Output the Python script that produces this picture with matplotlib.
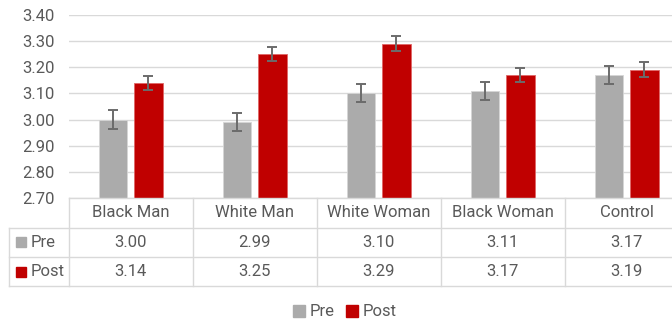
import numpy as np
import matplotlib
matplotlib.use('Agg')
import matplotlib.pyplot as plt
from matplotlib import transforms
from matplotlib.patches import Patch

categories = ['Black Man', 'White Man', 'White Woman', 'Black Woman', 'Control']
pre = [3.00, 2.99, 3.10, 3.11, 3.17]
post = [3.14, 3.25, 3.29, 3.17, 3.19]
pre_err = [0.035, 0.034, 0.034, 0.035, 0.036]
post_err = [0.027, 0.027, 0.028, 0.028, 0.029]
yticks = [2.70, 2.80, 2.90, 3.00, 3.10, 3.20, 3.30, 3.40]

c_pre = '#ABABAB'
c_post = '#C00000'
c_text = '#595959'
c_grid = '#D9D9D9'

plt.rcParams['font.family'] = ['Roboto', 'DejaVu Sans']
fs = 12

W, H = 672, 321
fig = plt.figure(figsize=(W / 100, H / 100), dpi=100)
# plot area runs a bit past the right edge, like the cropped original
ax = fig.add_axes([68.7 / W, 1 - 198.3 / H, 620 / W, 183.6 / H])

x = np.arange(len(categories))
bw = 0.23
off = 0.142
ax.bar(x - off, pre, bw, color=c_pre, edgecolor='#D6D6D6', linewidth=0.6, zorder=2)
ax.bar(x + off, post, bw, color=c_post, edgecolor='#E06666', linewidth=0.6, zorder=2)
ax.errorbar(x - off, pre, yerr=pre_err, fmt='none', ecolor='#6B6B6B',
            elinewidth=1.4, capsize=3.4, capthick=1.4, zorder=3)
ax.errorbar(x + off, post, yerr=post_err, fmt='none', ecolor='#6B6B6B',
            elinewidth=1.4, capsize=3.4, capthick=1.4, zorder=3)

ax.set_ylim(2.70, 3.40)
ax.set_xlim(-0.5, len(categories) - 0.5)
ax.set_yticks(yticks)
ax.set_yticklabels([f'{v:.2f}' for v in yticks], color=c_text, fontsize=fs)
ax.tick_params(axis='y', length=0, pad=10)
ax.set_xticks([])
ax.grid(axis='y', color=c_grid, linewidth=1.0, zorder=0)
for s in ['top', 'right', 'left']:
    ax.spines[s].set_visible(False)
ax.spines['bottom'].set_color(c_grid)
ax.spines['bottom'].set_linewidth(1.0)

# data table under the plot
tr = transforms.blended_transform_factory(ax.transData, ax.transAxes)
rh = 29.3 / 183.6
xl = -0.5 - 60 / 124
xr = len(categories) - 0.5 + 0.5
lkw = dict(color=c_grid, linewidth=1.0, transform=tr, clip_on=False)
for k in range(len(categories) + 1):
    ax.plot([k - 0.5, k - 0.5], [0, -3 * rh], **lkw)
ax.plot([xl, xl], [-rh, -3 * rh], **lkw)
for r in (1, 2, 3):
    ax.plot([xl, xr], [-r * rh, -r * rh], **lkw)

for i, c in enumerate(categories):
    ax.text(i, -0.5 * rh, c, ha='center', va='center', color=c_text,
            fontsize=fs, transform=tr)
    ax.text(i, -1.5 * rh, f'{pre[i]:.2f}', ha='center', va='center',
            color=c_text, fontsize=fs, transform=tr)
    ax.text(i, -2.5 * rh, f'{post[i]:.2f}', ha='center', va='center',
            color=c_text, fontsize=fs, transform=tr)

for r, (lab, col) in enumerate([('Pre', c_pre), ('Post', c_post)]):
    yy = -(1.5 + r) * rh
    ax.plot([-0.5 - 47.5 / 124], [yy], marker='s', markersize=7, color=col,
            transform=tr, clip_on=False, linestyle='none')
    ax.text(-0.5 - 38.5 / 124, yy, lab, ha='left', va='center', color=c_text,
            fontsize=fs, transform=tr)

handles = [Patch(color=c_pre, label='Pre'), Patch(color=c_post, label='Post')]
leg = fig.legend(handles=handles, loc='center', bbox_to_anchor=(345 / W, 1 - 312 / H),
                 ncol=2, frameon=False, handlelength=0.7, handleheight=0.7,
                 handletextpad=0.3, columnspacing=0.7, fontsize=fs)
for t in leg.get_texts():
    t.set_color(c_text)

fig.savefig('out.png', dpi=100)
